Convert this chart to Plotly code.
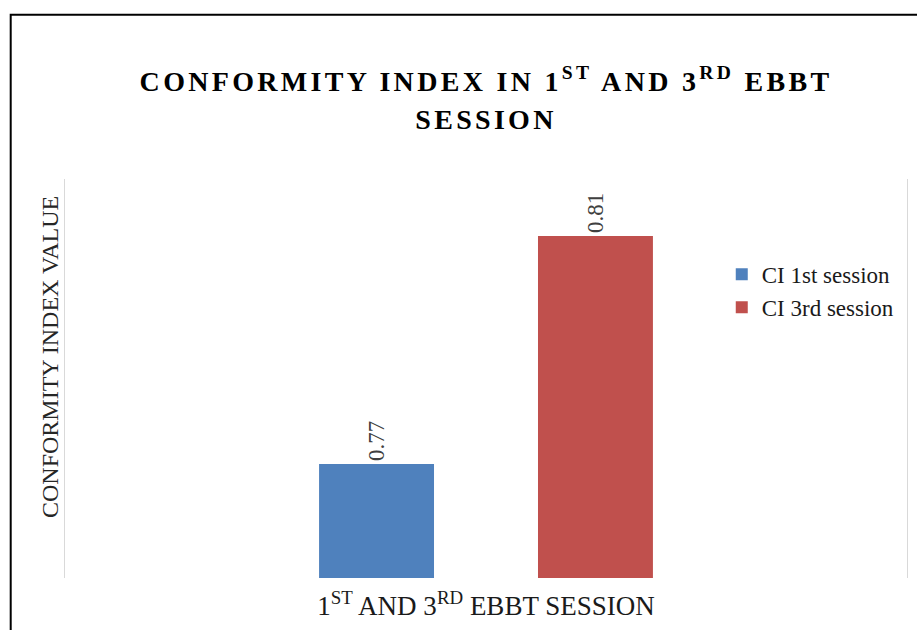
import plotly.graph_objects as go

# Conformity index per EBBT session
session_group = ["1ST AND 3RD EBBT SESSION"]
series_names = ["CI 1st session", "CI 3rd session"]
ci_values = [0.77, 0.81]
bar_colors = ["#4F81BD", "#C0504D"]

SERIF = "Liberation Serif"

fig = go.Figure()
for name, val, col in zip(series_names, ci_values, bar_colors):
    fig.add_trace(go.Bar(
        x=session_group,
        y=[val],
        name=name,
        legendgroup=name,
        marker=dict(color=col, line=dict(width=0)),
        text=[f"{val:.2f}"],
        textposition="outside",
        textangle=-90,
        textfont=dict(family=SERIF, size=23, color="#404040"),
        cliponaxis=False,
    ))

fig.update_layout(
    width=917,
    height=630,
    paper_bgcolor="white",
    plot_bgcolor="white",
    margin=dict(l=65, r=10, t=179, b=52),
    barmode="group",
    bargap=0.48,
    bargroupgap=0.475,
    title=dict(
        text="CONFORMITY INDEX IN 1<sup>ST</sup> AND 3<sup>RD</sup> EBBT<br>SESSION",
        font=dict(family=SERIF, size=28, color="black", weight="bold"),
        x=0.5, xref="paper", xanchor="center",
        y=1 - 91 / 630, yref="container", yanchor="top",
    ),
    xaxis=dict(
        type="category",
        range=[-0.5, 0.5],
        showticklabels=False,
        ticks="",
        showline=False,
        showgrid=False,
        zeroline=False,
        title=dict(
            text="1<sup>ST</sup> AND 3<sup>RD</sup> EBBT SESSION",
            font=dict(family=SERIF, size=27, color="#1a1a1a"),
            standoff=18,
        ),
    ),
    yaxis=dict(
        range=[0.75, 0.82],
        showticklabels=False,
        ticks="",
        showgrid=False,
        zeroline=False,
        showline=True,
        mirror=True,
        linecolor="#D9D9D9",
        linewidth=1,
    ),
    legend=dict(
        x=0.78, xanchor="left",
        y=0.815, yanchor="top",
        font=dict(family=SERIF, size=23, color="#1a1a1a"),
        traceorder="grouped",
        tracegroupgap=0,
        bgcolor="rgba(0,0,0,0)",
    ),
    showlegend=True,
    annotations=[dict(
        text="CONFORMITY INDEX VALUE",
        textangle=-90,
        xref="paper", yref="paper",
        x=(50 - 65) / 842, y=(578 - 357) / 399,
        xanchor="center", yanchor="middle",
        showarrow=False,
        font=dict(family=SERIF, size=24, color="#262626"),
    )],
    shapes=[dict(
        type="rect",
        xref="paper", yref="paper",
        x0=(10.7 - 65) / 842, x1=1.03,
        y0=-0.3, y1=(578 - 14.7) / 399,
        line=dict(color="black", width=2),
        fillcolor="rgba(0,0,0,0)",
        layer="above",
    )],
)

# Widen the letter spacing of the chart heading and set its line spacing
post = """
var gd = document.getElementById('{plot_id}');
var t = gd.querySelector('.gtitle');
if (t) {
  t.style.letterSpacing = '3.3px';
  var lines = t.querySelectorAll('tspan.line');
  for (var i = 1; i < lines.length; i++) {
    lines[i].setAttribute('dy', (i * 1.35) + 'em');
  }
}
"""

fig.write_html("out.html", post_script=post)
